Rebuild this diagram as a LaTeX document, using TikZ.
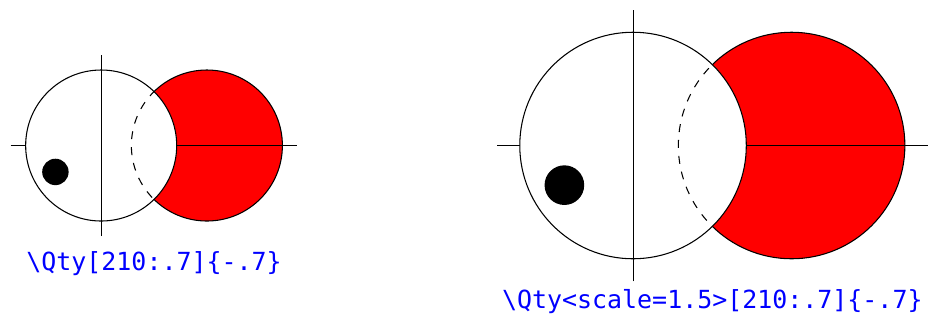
\documentclass[tikz,border=0pt]{standalone}
\usepackage{fontspec}
\setmonofont{DejaVu Sans Mono}
\begin{document}
\begin{tikzpicture}[
    qcode/.style={text=blue,font=\ttfamily\fontsize{9.4}{11}\selectfont,anchor=base,inner sep=0pt}]
  \useasboundingbox (-1.340,-2.351) rectangle (10.977,1.927);
  % Small drawing
  \begin{scope}
    % Red disc
    \filldraw[fill=red] (1.4,0) circle (1);
    \draw (-1.2,0) -- (2.6,0);
    % White disc in front
    \filldraw[fill=white] (0,0) circle (1);
    \begin{scope}
      \clip (0,0) circle (1);
      \draw[dashed] (1.4,0) circle (1);
    \end{scope}
    \draw (0,-1.2) -- (0,1.2);
    % Dot
    \fill (210:.7) circle (.175);
  \end{scope}
  \node[qcode] (lbl-small) at (0.7,-1.649) {\string\Qty[210:.7]\{-.7\}};
  % Large drawing
  \begin{scope}[shift={(7.044,0)},scale=1.5]
    % Red disc
    \filldraw[fill=red] (1.4,0) circle (1);
    \draw (-1.2,0) -- (2.6,0);
    % White disc in front
    \filldraw[fill=white] (0,0) circle (1);
    \begin{scope}
      \clip (0,0) circle (1);
      \draw[dashed] (1.4,0) circle (1);
    \end{scope}
    \draw (0,-1.2) -- (0,1.2);
    % Dot
    \fill (210:.7) circle (.175);
  \end{scope}
  \node[qcode] (lbl-large) at (8.094,-2.159) {\string\Qty<scale=1.5>[210:.7]\{-.7\}};
\end{tikzpicture}
\end{document}
